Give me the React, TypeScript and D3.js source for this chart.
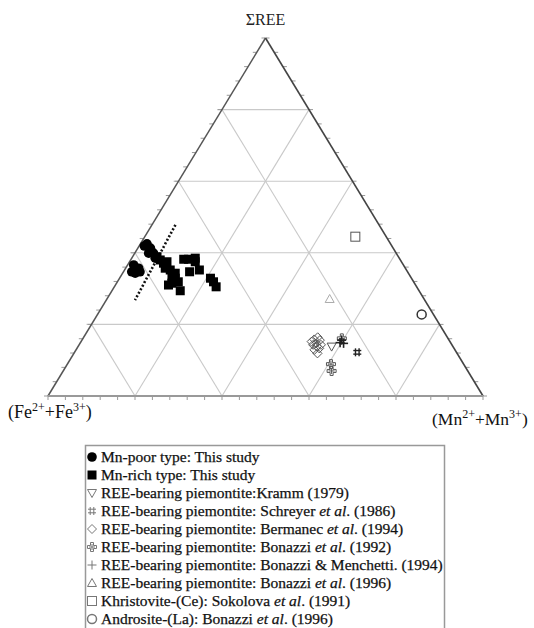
import React from 'react';
import * as d3 from 'd3';

// ternary data in percent: REE (top), Mn (right); Fe = 100 - REE - Mn (left)
const mnPoorREE = [42.5, 41.3, 39.9, 39.9, 38.5, 36.6, 35.7, 34.3, 34.7, 34.7, 41.9];
const mnPoorMn = [1.5, 2.9, 3.2, 4.3, 5.4, 1.4, 3.0, 2.9, 1.9, 3.8, 1.2];

const mnRichREE = [38.0, 37.1, 37.5, 35.7, 35.2, 33.8, 32.9, 31.9, 34.3, 29.4, 38.2, 38.2, 38.5, 37.5, 34.7, 35.2, 32.9, 31.9, 30.5, 38.9, 31.0, 31.5];
const mnRichMn = [6.8, 8.0, 8.6, 9.1, 10.5, 11.6, 12.8, 14.0, 12.1, 15.7, 12.1, 13.2, 14.6, 15.1, 15.2, 17.2, 20.9, 22.1, 23.4, 5.6, 12.2, 12.7];

const krammREE = [13.8];
const krammMn = [58.3];
const schreyerREE = [12.2];
const schreyerMn = [65.0];
const bermanecREE = [15.2, 15.8, 16.4, 15.6, 14.3, 13.8, 12.9, 11.9, 14.3, 14.7, 13.3];
const bermanecMn = [53.0, 53.3, 53.8, 54.7, 55.6, 54.9, 54.8, 56.0, 53.8, 54.3, 55.7];
const bonazzi92REE = [8.9, 7.0, 16.1];
const bonazzi92Mn = [60.6, 61.7, 59.5];
const bonMenREE = [15.6, 14.7, 14.9];
const bonMenMn = [59.7, 60.6, 59.7];
const bonazzi96REE = [27.1];
const bonazzi96Mn = [51.2];
const khristoviteREE = [44.5];
const khristoviteMn = [48.4];
const andrositeREE = [22.8];
const andrositeMn = [74.5];

const dividerREE = [47.8, 26.8];
const dividerMn = [5.4, 6.6];

const gridValues = [20, 40, 60, 80];
const tickValues = d3.range(0, 101, 4);

const legendLabels: { key: string; parts: { t: string; i?: boolean }[] }[] = [
  { key: 'poor', parts: [{ t: 'Mn-poor type: This study' }] },
  { key: 'rich', parts: [{ t: 'Mn-rich type: This study' }] },
  { key: 'kramm', parts: [{ t: 'REE-bearing piemontite:Kramm (1979)' }] },
  { key: 'schreyer', parts: [{ t: 'REE-bearing piemontite: Schreyer ' }, { t: 'et al', i: true }, { t: '. (1986)' }] },
  { key: 'bermanec', parts: [{ t: 'REE-bearing piemontite: Bermanec ' }, { t: 'et al', i: true }, { t: '. (1994)' }] },
  { key: 'bon92', parts: [{ t: 'REE-bearing piemontite: Bonazzi ' }, { t: 'et al', i: true }, { t: '. (1992)' }] },
  { key: 'bonmen', parts: [{ t: 'REE-bearing piemontite: Bonazzi & Menchetti. (1994)' }] },
  { key: 'bon96', parts: [{ t: 'REE-bearing piemontite: Bonazzi ' }, { t: 'et al', i: true }, { t: '. (1996)' }] },
  { key: 'khris', parts: [{ t: 'Khristovite-(Ce): Sokolova ' }, { t: 'et al', i: true }, { t: '. (1991)' }] },
  { key: 'andro', parts: [{ t: 'Androsite-(La): Bonazzi ' }, { t: 'et al', i: true }, { t: '. (1996)' }] },
];

const xScale = d3.scaleLinear().domain([0, 100]).range([48, 483]);
const yScale = d3.scaleLinear().domain([0, 100]).range([396, 38]);

function proj(ree: number, mn: number): [number, number] {
  return [xScale(mn + ree / 2), yScale(ree)];
}

const FONT = '"Liberation Serif", "Times New Roman", serif';
const GRAY = '#555';
const LGRAY = '#777';

function Marker({ kind, x, y, legend }: { kind: string; x: number; y: number; legend?: boolean }) {
  const c = legend ? LGRAY : GRAY;
  switch (kind) {
    case 'poor':
      return <circle cx={x} cy={y} r={4.8} fill="#000" />;
    case 'rich':
      return <rect x={x - 4.5} y={y - 4.5} width={9} height={9} fill="#000" />;
    case 'kramm':
      return <path d={`M${x - 4.5},${y - 3.5}L${x + 4.5},${y - 3.5}L${x},${y + 4.5}Z`} fill="none" stroke={c} strokeWidth={1} />;
    case 'schreyer':
      return (
        <g stroke={legend ? LGRAY : '#222'} strokeWidth={legend ? 1 : 1.4}>
          <line x1={x - 1.8} y1={y - 4} x2={x - 1.8} y2={y + 4} />
          <line x1={x + 1.8} y1={y - 4} x2={x + 1.8} y2={y + 4} />
          <line x1={x - 4} y1={y - 1.8} x2={x + 4} y2={y - 1.8} />
          <line x1={x - 4} y1={y + 1.8} x2={x + 4} y2={y + 1.8} />
        </g>
      );
    case 'bermanec':
      return <path d={`M${x},${y - 4.5}L${x + 4.5},${y}L${x},${y + 4.5}L${x - 4.5},${y}Z`} fill="none" stroke={c} strokeWidth={1} />;
    case 'bon92':
      return (
        <g fill="none" stroke={c} strokeWidth={1}>
          <path d={`M${x - 1.5},${y - 4.5}L${x + 1.5},${y - 4.5}L${x + 1.5},${y - 1.5}L${x + 4.5},${y - 1.5}L${x + 4.5},${y + 1.5}L${x + 1.5},${y + 1.5}L${x + 1.5},${y + 4.5}L${x - 1.5},${y + 4.5}L${x - 1.5},${y + 1.5}L${x - 4.5},${y + 1.5}L${x - 4.5},${y - 1.5}L${x - 1.5},${y - 1.5}Z`} />
          <line x1={x} y1={y - 3} x2={x} y2={y + 3} />
          <line x1={x - 3} y1={y} x2={x + 3} y2={y} />
        </g>
      );
    case 'bonmen':
      return (
        <g stroke={legend ? LGRAY : '#222'} strokeWidth={legend ? 1 : 1.6}>
          <line x1={x} y1={y - 4.5} x2={x} y2={y + 4.5} />
          <line x1={x - 4.5} y1={y} x2={x + 4.5} y2={y} />
        </g>
      );
    case 'bon96':
      return <path d={`M${x},${y - 4.5}L${x + 4.5},${y + 3.5}L${x - 4.5},${y + 3.5}Z`} fill="none" stroke={legend ? LGRAY : '#aaa'} strokeWidth={1} />;
    case 'khris':
      return <rect x={x - 4.5} y={y - 4.5} width={9} height={9} fill="none" stroke={c} strokeWidth={1} />;
    case 'andro':
      return <circle cx={x} cy={y} r={4.5} fill="none" stroke={legend ? LGRAY : '#333'} strokeWidth={1.5} />;
    default:
      return null;
  }
}

const series: { kind: string; ree: number[]; mn: number[] }[] = [
  { kind: 'bermanec', ree: bermanecREE, mn: bermanecMn },
  { kind: 'kramm', ree: krammREE, mn: krammMn },
  { kind: 'bon92', ree: bonazzi92REE, mn: bonazzi92Mn },
  { kind: 'bonmen', ree: bonMenREE, mn: bonMenMn },
  { kind: 'schreyer', ree: schreyerREE, mn: schreyerMn },
  { kind: 'bon96', ree: bonazzi96REE, mn: bonazzi96Mn },
  { kind: 'khris', ree: khristoviteREE, mn: khristoviteMn },
  { kind: 'andro', ree: andrositeREE, mn: andrositeMn },
  { kind: 'poor', ree: mnPoorREE, mn: mnPoorMn },
  { kind: 'rich', ree: mnRichREE, mn: mnRichMn },
];

export default function App() {
  const L = proj(0, 0);
  const R = proj(0, 100);
  const T = proj(100, 0);
  const line = d3.line();

  const grid: [number, number][][] = [];
  gridValues.forEach((v) => {
    const a = proj(v, 0);
    grid.push([[a[0] - 5, a[1]], proj(v, 100 - v)]);
    grid.push([proj(0, v), proj(100 - v, v)]);
    grid.push([proj(0, 100 - v), proj(100 - v, 0)]);
  });

  const ticks: [number, number][][] = [];
  tickValues.forEach((v) => {
    const b = proj(0, v);
    ticks.push([b, [b[0], b[1] + 4]]);
    const l = proj(v, 0);
    ticks.push([l, [l[0] - 4, l[1]]]);
    const r = proj(v, 100 - v);
    ticks.push([r, [r[0] + 4, r[1]]]);
  });

  const divider = dividerREE.map((r, i) => proj(r, dividerMn[i]));

  return (
    <svg width={534} height={628} style={{ position: 'absolute', left: 0, top: 0, background: '#fff' }} fontFamily={FONT}>
      <g>
        {grid.map((g, i) => (
          <path key={i} d={line(g) || ''} stroke="#c9c9c9" strokeWidth={1.1} fill="none" />
        ))}
        {ticks.map((g, i) => (
          <path key={'t' + i} d={line(g) || ''} stroke="#999" strokeWidth={1} fill="none" />
        ))}
        <path d={line([L, T]) || ''} stroke="#555" strokeWidth={1.5} fill="none" />
        <path d={line([T, R]) || ''} stroke="#444" strokeWidth={1.6} fill="none" />
        <path d={line([L, R]) || ''} stroke="#999" strokeWidth={2.2} fill="none" />
      </g>
      <path d={line(divider) || ''} stroke="#111" strokeWidth={2.6} strokeDasharray="2,2" fill="none" />
      {series.map((s) =>
        s.ree.map((r, i) => {
          const [x, y] = proj(r, s.mn[i]);
          return <Marker key={s.kind + i} kind={s.kind} x={x} y={y} />;
        })
      )}
      <text x={T[0]} y={25} textAnchor="middle" fontSize={16} fill="#222" fontFamily='"Liberation Serif", serif'>ΣREE</text>
      <text x={8} y={418} fontSize={18} fill="#111">
        (Fe<tspan dy={-7} fontSize={12}>2+</tspan><tspan dy={7}>+Fe</tspan><tspan dy={-7} fontSize={12}>3+</tspan><tspan dy={7}>)</tspan>
      </text>
      <text x={432} y={425} fontSize={17.5} fill="#111">
        (Mn<tspan dy={-7} fontSize={12}>2+</tspan><tspan dy={7}>+Mn</tspan><tspan dy={-7} fontSize={12}>3+</tspan><tspan dy={7}>)</tspan>
      </text>
      <rect x={85.5} y={445.5} width={359} height={200} fill="none" stroke="#999" strokeWidth={1.5} />
      {legendLabels.map((l, i) => {
        const cy = 457 + i * 18;
        return (
          <g key={l.key}>
            <Marker kind={l.key} x={92} y={cy} legend />
            <text x={101} y={cy + 5} fontSize={15.5} fill="#111" stroke="#111" strokeWidth={0.25}>
              {l.parts.map((p, j) => (
                <tspan key={j} fontStyle={p.i ? 'italic' : 'normal'}>{p.t}</tspan>
              ))}
            </text>
          </g>
        );
      })}
    </svg>
  );
}
